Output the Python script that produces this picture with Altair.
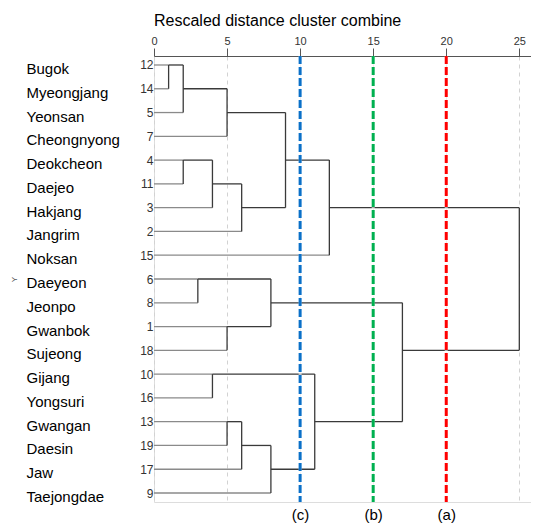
import math
import altair as alt
import pandas as pd

# ---- data ----
leaf_numbers = [12, 14, 5, 7, 4, 11, 3, 2, 15, 6, 8, 1, 18, 10, 16, 13, 19, 17, 9]
site_names = ["Bugok", "Myeongjang", "Yeonsan", "Cheongnyong", "Deokcheon", "Daejeo",
              "Hakjang", "Jangrim", "Noksan", "Daeyeon", "Jeonpo", "Gwanbok", "Sujeong",
              "Gijang", "Yongsuri", "Gwangan", "Daesin", "Jaw", "Taejongdae"]
# merges: ints are leaf numbers, "mK" is the K-th merge below
merge_left = [12, "m0", 4, 6, "m2", 10, "m1", 1, 13, "m4", "m8", "m6", "m3", "m10", "m5", "m11", "m12", "m15"]
merge_right = [14, 5, 11, 8, 3, 16, 7, 18, 19, 2, 17, "m9", "m7", 9, "m13", 15, "m14", "m16"]
merge_dist = [1, 2, 2, 3, 4, 4, 5, 5, 5, 6, 6, 9, 8, 8, 11, 12, 17, 25]

cut_values = [20, 15, 10]
cut_labels = ["(a)", "(b)", "(c)"]
tick_values = [0, 5, 10, 15, 20, 25]

# ---- build dendrogram segments ----
pos = {n: i for i, n in enumerate(leaf_numbers)}
hgt = {n: 0 for n in leaf_numbers}
rows = []
for k, (a, b, d) in enumerate(zip(merge_left, merge_right, merge_dist)):
    ya, yb = pos[a], pos[b]
    for c, yc in ((a, ya), (b, yb)):
        kind = "leaf" if isinstance(c, int) else "inner"
        rows.append(dict(x1=hgt[c], x2=d, y1=yc, y2=yc, kind=kind))
    rows.append(dict(x1=d, x2=d, y1=ya, y2=yb, kind="inner"))
    name = f"m{k}"
    pos[name] = math.floor((ya + yb) / 2)
    hgt[name] = d
seg = pd.DataFrame(rows)

rows_df = pd.DataFrame({"row": list(range(len(leaf_numbers))),
                        "num": [str(n) for n in leaf_numbers],
                        "name": site_names})
cuts = pd.DataFrame({"cut": cut_values, "label": cut_labels})

num_expr = "[" + ",".join(f"'{n}'" for n in leaf_numbers) + "][datum.value]"
name_expr = "[" + ",".join(f"'{n}'" for n in site_names) + "][datum.value]"
cut_expr = "{" + ",".join(f"'{v}':'{l}'" for v, l in zip(cut_values, cut_labels)) + "}[datum.label]"

xscale = alt.Scale(domain=[0, 25.8], nice=False, zero=False)
yscale = alt.Scale(domain=[-0.378, 18.378], nice=False, zero=False, reverse=True)

segments = alt.Chart(seg).mark_rule(strokeWidth=1.3).encode(
    x=alt.X("x1:Q", scale=xscale, axis=alt.Axis(
        orient="top", values=tick_values, title=None, labelFlush=False,
        domainColor="#555555", tickColor="#555555", tickSize=8,
        labelFontSize=11, labelColor="#333333", labelPadding=2, labelFont="Arial",
        grid=True, gridDash=[4, 4], gridColor="#d2d2d2")),
    x2="x2:Q",
    y=alt.Y("y1:Q", scale=yscale, axis=alt.Axis(
        orient="left", values=list(range(len(leaf_numbers))), labelExpr=num_expr,
        title=None, labelAlign="right", labelPadding=1, ticks=False, domain=False,
        grid=False, labelFontSize=12, labelColor="#333333", labelFont="Arial",
        labelOverlap=False)),
    y2="y2:Q",
    color=alt.Color("kind:N", scale=alt.Scale(domain=["leaf", "inner"],
                                              range=["#8a8a8a", "#3a3a3a"]), legend=None),
)

names = alt.Chart(rows_df).mark_point(opacity=0).encode(
    y=alt.Y("row:Q", scale=yscale, axis=alt.Axis(
        orient="left", values=list(range(len(site_names))), labelExpr=name_expr,
        labelAlign="left", labelPadding=128, labelOffset=3.5, ticks=False, domain=False,
        grid=False, labelFontSize=15, labelColor="#000000", labelFont="Arial",
        labelOverlap=False, labelLimit=200,
        title="Y", titleFontSize=8, titleColor="#555555", titleFontWeight="normal",
        titleX=-140, titleY=223, titleAngle=270, titleAlign="center", titleBaseline="middle")),
)

cut_under = alt.Chart(cuts).mark_rule(strokeWidth=3, color="#ffffff", opacity=0.6).encode(
    x=alt.X("cut:Q", scale=xscale, axis=None))

cut_lines = alt.Chart(cuts).mark_rule(strokeWidth=3, strokeDash=[8, 3]).encode(
    x=alt.X("cut:Q", scale=xscale, axis=alt.Axis(
        orient="bottom", values=cut_values, labelExpr=cut_expr, title=None,
        ticks=False, domain=False, grid=False, labelFlush=False,
        labelFontSize=15, labelColor="#000000", labelFont="Arial", labelPadding=5)),
    color=alt.Color("label:N", scale=alt.Scale(domain=cut_labels,
                                               range=["#ff0000", "#00b050", "#0a70c8"]),
                    legend=None),
)

chart = alt.layer(segments, names, cut_under, cut_lines).resolve_axis(
    y="independent", x="independent").resolve_scale(color="independent").properties(
    width=377, height=446,
    title=alt.TitleParams("Rescaled distance cluster combine", anchor="start", frame="group",
                          fontSize=16, fontWeight="normal", font="Arial",
                          color="#000000", offset=6),
    padding={"left": 146, "top": 48, "right": 0, "bottom": 24},
    autosize=alt.AutoSizeParams(type="none"),
).configure_view(fill="#f0f0f0", stroke="#777777", strokeWidth=1
).configure(background="#ffffff")

chart.save("out.html", embed_options={"renderer": "svg", "actions": False})
